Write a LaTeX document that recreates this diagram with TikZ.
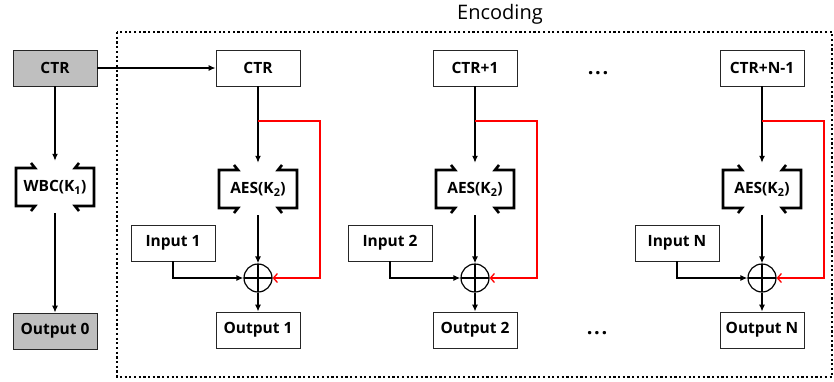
\documentclass[tikz,border=0pt]{standalone}
\usepackage{fontspec}
\setmainfont{Open Sans}
\usetikzlibrary{arrows.meta}

\begin{document}
\begin{tikzpicture}
    [x=1pt,y=-1pt,
     boxstyle/.style={draw=black!85,line width=0.8pt,minimum width=84pt,minimum height=36pt,inner sep=0pt,font=\fontsize{15.5}{17}\selectfont\bfseries},
     grayboxstyle/.style={boxstyle,fill=black!25},
     cipherstyle/.style={minimum width=84pt,minimum height=52pt,inner sep=0pt,font=\fontsize{15.5}{17}\selectfont\bfseries,
       path picture={
         \draw[line width=2.6pt] ([xshift=18pt,yshift=-2pt]path picture bounding box.north west) -- ++(4pt,-5pt) -- ++(-19pt,0pt) -- ++(0pt,-38pt) -- ++(19pt,0pt) -- ++(-4pt,-5pt);
         \draw[line width=2.6pt] ([xshift=-18pt,yshift=-2pt]path picture bounding box.north east) -- ++(-4pt,-5pt) -- ++(19pt,0pt) -- ++(0pt,-38pt) -- ++(-19pt,0pt) -- ++(4pt,-5pt);}},
     xorstyle/.style={circle,draw,line width=1.2pt,minimum size=28pt,inner sep=0pt,
       path picture={\draw[line width=1.2pt] (path picture bounding box.north) -- (path picture bounding box.south) (path picture bounding box.west) -- (path picture bounding box.east);}},
     dotstyle/.style={anchor=base,inner sep=0pt,font=\fontsize{20}{22}\selectfont\bfseries},
     arrowstyle/.style={line width=1.3pt,-{Latex[length=7pt,width=6pt]}},
     redarrowstyle/.style={red,line width=1.3pt,-{Straight Barb[length=4pt,width=9pt]}},
     borderstyle/.style={line width=2.2pt,dash pattern=on 2.2pt off 2.5pt}]

    \useasboundingbox (0,0) rectangle (834,381);
    \draw [borderstyle] (117,32) rectangle (832,377);
    \node [font=\fontsize{20}{24}\selectfont] (enc) at (500,14) {Encoding};

    \node [grayboxstyle] (c0) at (55,68) {CTR};
    \node [cipherstyle] (w0) at (55,187) {WBC(K\textsubscript{1})};
    \node [grayboxstyle] (o0) at (55,331) {Output 0};

    \node [boxstyle] (c1) at (258,68) {CTR};
    \node [cipherstyle] (a1) at (258,189) {AES(K\textsubscript{2})};
    \node [boxstyle] (i1) at (173,243) {Input 1};
    \node [xorstyle] (x1) at (258,278) {};
    \node [boxstyle] (o1) at (258,330) {Output 1};
    \coordinate (s1) at (258,121);
    \coordinate (r1) at (320,121);

    \node [boxstyle] (c2) at (475,68) {CTR+1};
    \node [cipherstyle] (a2) at (475,189) {AES(K\textsubscript{2})};
    \node [boxstyle] (i2) at (390,243) {Input 2};
    \node [xorstyle] (x2) at (475,278) {};
    \node [boxstyle] (o2) at (475,330) {Output 2};
    \coordinate (s2) at (475,121);
    \coordinate (r2) at (537,121);

    \node [boxstyle] (c3) at (762,68) {CTR+N-1};
    \node [cipherstyle] (a3) at (762,189) {AES(K\textsubscript{2})};
    \node [boxstyle] (i3) at (677,243) {Input N};
    \node [xorstyle] (x3) at (762,278) {};
    \node [boxstyle] (o3) at (762,330) {Output N};
    \coordinate (s3) at (762,121);
    \coordinate (r3) at (824,121);

    \node [dotstyle] (d1) at (598,74) {.\hspace{1.7pt}.\hspace{1.7pt}.};
    \node [dotstyle] (d2) at (597,334) {.\hspace{1.7pt}.\hspace{1.7pt}.};

    \draw [arrowstyle] (c0) -- (c1);
    \draw [arrowstyle] (c0) -- (w0);
    \draw [arrowstyle] (w0) -- (o0);

    \draw [arrowstyle] (c1) -- (a1);
    \draw [arrowstyle] (a1) -- (x1);
    \draw [arrowstyle] (i1) |- (x1);
    \draw [arrowstyle] (x1) -- (o1);
    \draw [redarrowstyle] (s1) -- (r1) |- (x1);

    \draw [arrowstyle] (c2) -- (a2);
    \draw [arrowstyle] (a2) -- (x2);
    \draw [arrowstyle] (i2) |- (x2);
    \draw [arrowstyle] (x2) -- (o2);
    \draw [redarrowstyle] (s2) -- (r2) |- (x2);

    \draw [arrowstyle] (c3) -- (a3);
    \draw [arrowstyle] (a3) -- (x3);
    \draw [arrowstyle] (i3) |- (x3);
    \draw [arrowstyle] (x3) -- (o3);
    \draw [redarrowstyle] (s3) -- (r3) |- (x3);
  \end{tikzpicture}
\end{document}
